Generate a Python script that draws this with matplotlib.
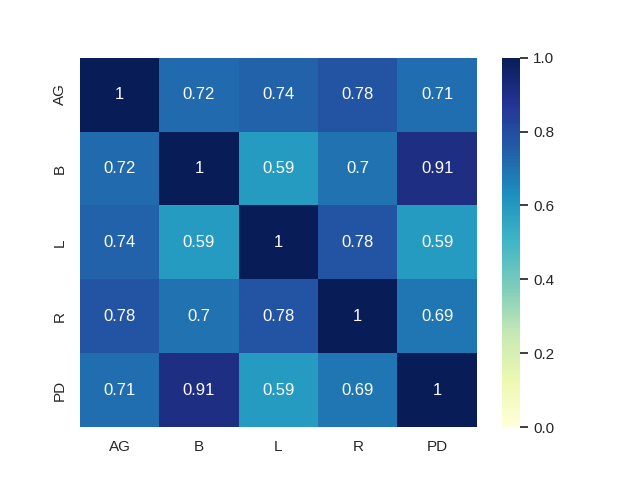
import matplotlib
matplotlib.use("Agg")
import matplotlib.pyplot as plt
import seaborn as sns
import pandas as pd

labels = ["AG", "B", "L", "R", "PD"]
row_ag = [1, 0.72, 0.74, 0.78, 0.71]
row_b = [0.72, 1, 0.59, 0.7, 0.91]
row_l = [0.74, 0.59, 1, 0.78, 0.59]
row_r = [0.78, 0.7, 0.78, 1, 0.69]
row_pd = [0.71, 0.91, 0.59, 0.69, 1]

corr = pd.DataFrame([row_ag, row_b, row_l, row_r, row_pd], index=labels, columns=labels)

sns.set_theme(style="white")
plt.rcParams['font.family'] = ['Liberation Sans', 'DejaVu Sans']

fig, ax = plt.subplots(figsize=(6.4, 4.8), dpi=100)
sns.heatmap(corr, annot=True, cmap="YlGnBu", vmin=0, vmax=1, ax=ax)

fig.savefig("out.png")
